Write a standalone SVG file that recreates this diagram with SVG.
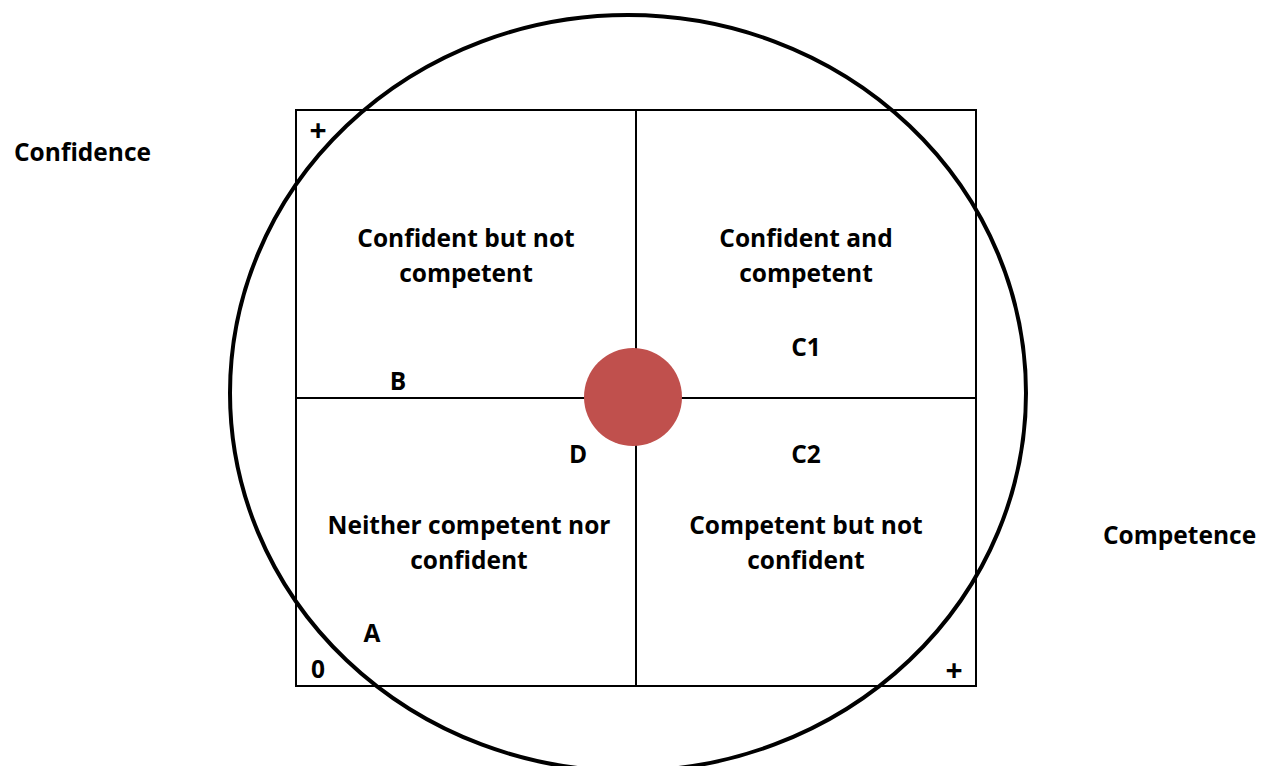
<svg xmlns="http://www.w3.org/2000/svg" width="1266" height="766" viewBox="0 0 1266 766">
<style>
text{font-family:"Open Sans","Liberation Sans",sans-serif;font-weight:bold;font-size:24.5px;fill:#000;text-anchor:middle}
.ax{text-anchor:start}
.pl{font-size:30px}
.ln{stroke:#000;stroke-width:2;fill:none}
</style>
<rect width="1266" height="766" fill="#fff"/>
<g id="grid">
<rect class="ln" x="296" y="110" width="680" height="576"/>
<line class="ln" x1="636" y1="110" x2="636" y2="686"/>
<line class="ln" x1="296" y1="398" x2="976" y2="398"/>
</g>
<g id="outer-circle">
<ellipse cx="628" cy="393" rx="398" ry="378" fill="none" stroke="#000" stroke-width="4"/>
</g>
<g id="center-dot">
<circle cx="633" cy="397" r="49" fill="#C0504D"/>
</g>
<g id="axis-labels">
<text class="ax" x="14" y="161">Confidence</text>
<text class="ax" x="1103" y="544">Competence</text>
<text class="pl" x="318" y="141">+</text>
<text class="pl" x="954" y="681">+</text>
<text x="318" y="678">0</text>
</g>
<g id="q-tl"><text x="466" y="247">Confident but not</text><text x="466" y="282">competent</text></g>
<g id="q-tr"><text x="806" y="247">Confident and</text><text x="806" y="282">competent</text></g>
<g id="q-bl"><text x="469" y="534">Neither competent nor</text><text x="469" y="569">confident</text></g>
<g id="q-br"><text x="806" y="534">Competent but not</text><text x="806" y="569">confident</text></g>
<g id="points">
<text x="806" y="356">C1</text>
<text x="806" y="463">C2</text>
<text x="398" y="390">B</text>
<text x="578" y="463">D</text>
<text x="372" y="642">A</text>
</g>
</svg>
